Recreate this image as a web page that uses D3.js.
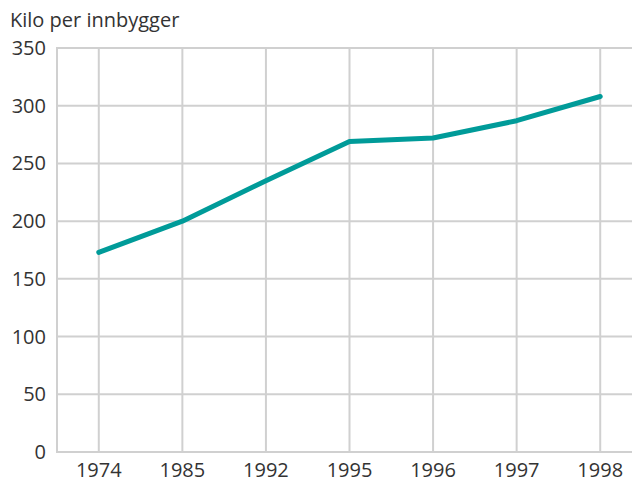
<!DOCTYPE html>
<html>
<head>
<meta charset="utf-8">
<script src="https://cdn.jsdelivr.net/npm/d3@7"></script>
<style>
  body { margin: 0; background: #fff; }
  text { font-family: "Open Sans", "Noto Sans", sans-serif; fill: #333; }
</style>
</head>
<body>
<div id="chart"></div>
<script>
    let years = ["1974", "1985", "1992", "1995", "1996", "1997", "1998"];
    let kilos = [173, 200, 235, 269, 272, 287, 308];
    let yTicks = [0, 50, 100, 150, 200, 250, 300, 350];

    let W = 632, H = 482;
    let margin = { top: 48, right: -10, bottom: 30, left: 57 };

    let svg = d3.select("#chart")
        .append("svg")
        .attr("width", W)
        .attr("height", H);

    let x = d3.scalePoint()
        .domain(years)
        .range([margin.left, W - margin.right])
        .padding(0.5);

    let y = d3.scaleLinear()
        .domain([0, 350])
        .range([H - margin.bottom, margin.top]);

    // grid
    svg.append("g")
        .selectAll("line.h")
        .data(yTicks)
        .join("line")
        .attr("x1", margin.left)
        .attr("x2", W)
        .attr("y1", d => y(d))
        .attr("y2", d => y(d))
        .attr("stroke", "#d0d0d0")
        .attr("stroke-width", 2);

    svg.append("g")
        .selectAll("line.v")
        .data(years)
        .join("line")
        .attr("x1", d => x(d))
        .attr("x2", d => x(d))
        .attr("y1", y(350))
        .attr("y2", y(0))
        .attr("stroke", "#d0d0d0")
        .attr("stroke-width", 2);

    svg.append("line")
        .attr("x1", margin.left)
        .attr("x2", margin.left)
        .attr("y1", y(350) - 1)
        .attr("y2", y(0) + 1)
        .attr("stroke", "#d0d0d0")
        .attr("stroke-width", 2);

    // y labels
    svg.append("g")
        .selectAll("text")
        .data(yTicks)
        .join("text")
        .attr("x", 46)
        .attr("y", d => y(d))
        .attr("dy", "0.35em")
        .attr("text-anchor", "end")
        .style("font-size", "20px")
        .text(d => d);

    // x labels
    svg.append("g")
        .selectAll("text")
        .data(years)
        .join("text")
        .attr("x", d => x(d))
        .attr("y", 477)
        .attr("text-anchor", "middle")
        .style("font-size", "20px")
        .text(d => d);

    svg.append("text")
        .attr("x", 10)
        .attr("y", 27)
        .style("font-size", "20px")
        .text("Kilo per innbygger");

    // line
    let line = d3.line()
        .x((d, i) => x(years[i]))
        .y(d => y(d));

    svg.append("path")
        .datum(kilos)
        .attr("d", line)
        .attr("fill", "none")
        .attr("stroke", "#009b99")
        .attr("stroke-width", 5)
        .attr("stroke-linecap", "round")
        .attr("stroke-linejoin", "round");
</script>
</body>
</html>
